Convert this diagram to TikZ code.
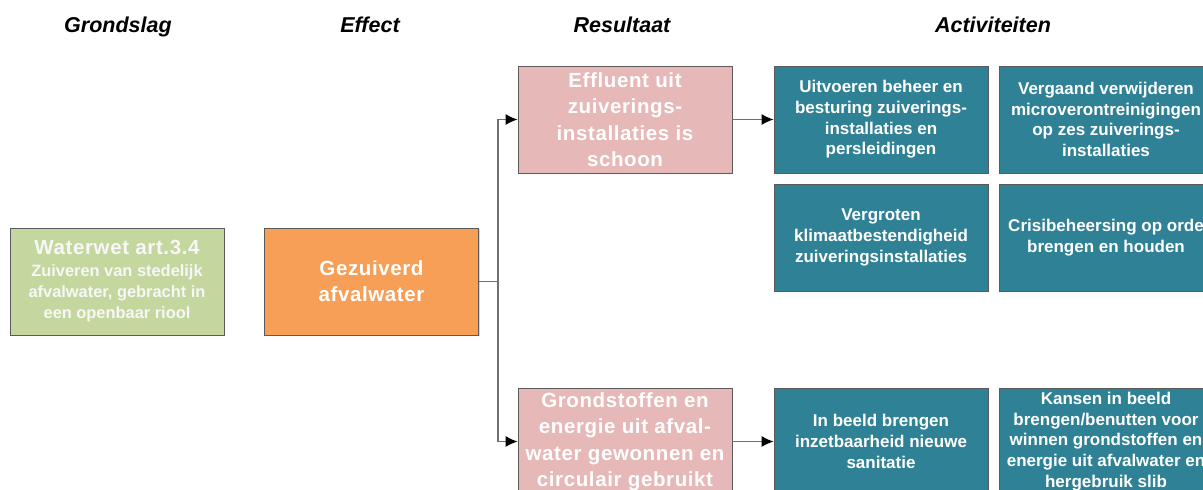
\documentclass[tikz,border=0pt]{standalone}
\usepackage{fontspec}
\setmainfont{Liberation Sans}
\newfontfamily\spacedfont{Liberation Sans}[LetterSpace=3]
\usetikzlibrary{arrows.meta,shadows}
\definecolor{greenbox}{HTML}{C4D79F}
\definecolor{orangebox}{HTML}{F79F56}
\definecolor{pinkbox}{HTML}{E6B8B7}
\definecolor{tealbox}{HTML}{2F8196}
\definecolor{boxborder}{HTML}{5A5A5A}
\definecolor{linegray}{HTML}{707070}
\definecolor{softwhite}{HTML}{F7F7F7}
\tikzset{
  box/.style={draw=boxborder, line width=0.9pt, minimum width=214pt, minimum height=107pt,
    inner sep=0pt, align=center, text=white,
    drop shadow={shadow xshift=1.2pt, shadow yshift=-1.2pt, opacity=0.3}},
  greenstyle/.style={box, fill=greenbox, text=softwhite, font=\bfseries\fontsize{16.4}{21}\selectfont},
  orangestyle/.style={box, fill=orangebox, font=\spacedfont\bfseries\fontsize{20.5}{26}\selectfont},
  pinkstyle/.style={box, fill=pinkbox, font=\spacedfont\bfseries\fontsize{20.5}{26.5}\selectfont},
  tealstyle/.style={box, fill=tealbox, font=\bfseries\fontsize{17}{20.7}\selectfont},
  header/.style={font=\bfseries\itshape\fontsize{21.5}{25}\selectfont, text=black, inner sep=0pt, anchor=base},
  connector/.style={draw=linegray, line width=1.1pt},
  arrowconn/.style={connector, -{Latex[length=12pt,width=11pt,color=black]}}
}
\begin{document}
\begin{tikzpicture}[x=1pt,y=-1pt]
\useasboundingbox (0,0) rectangle (1203,490);
\clip (0,0) rectangle (1203,490);
\fill[white] (0,0) rectangle (1203,490);

% headers
\node[header] (hgrond) at (118,32) {Grondslag};
\node[header] (heffect) at (370,32) {Effect};
\node[header] (hresult) at (622,32) {Resultaat};
\node[header] (hactiv) at (993,32) {Activiteiten};

% left boxes
\node[greenstyle] (grond) at (117,281.5) {{\spacedfont\fontsize{20.5}{25}\selectfont Waterwet art.3.4}\\[1pt]
  Zuiveren van stedelijk\\
  afvalwater, gebracht in\\
  een openbaar riool};
\node[orangestyle] (effect) at (371.5,281.5) {Gezuiverd\\afvalwater};

% results
\node[pinkstyle] (res1) at (625,119.5) {Effluent uit\\zuiverings-\\installaties is\\schoon};
\node[pinkstyle] (res2) at (625,441.5) {Grondstoffen en\\energie uit afval-\\water gewonnen en\\circulair gebruikt};

% activities
\node[tealstyle] (a11) at (881,119.5) {Uitvoeren beheer en\\besturing zuiverings-\\installaties en\\persleidingen};
\node[tealstyle] (a12) at (1106,119.5) {Vergaand verwijderen\\microverontreinigingen\\op zes zuiverings-\\installaties};
\node[tealstyle] (a21) at (881,237.5) {Vergroten\\klimaatbestendigheid\\zuiveringsinstallaties};
\node[tealstyle] (a22) at (1106,237.5) {Crisibeheersing op orde\\brengen en houden};
\node[tealstyle] (a31) at (881,441.5) {In beeld brengen\\inzetbaarheid nieuwe\\sanitatie};
\node[tealstyle] (a32) at (1106,441.5) {Kansen in beeld\\brengen/benutten voor\\winnen grondstoffen en\\energie uit afvalwater en\\hergebruik slib};

% connectors
\coordinate (split) at (498,281.5);
\draw[connector] (effect.east) -- (split);
\draw[arrowconn] (split) |- (res1.west);
\draw[arrowconn] (split) |- (res2.west);
\draw[arrowconn] (res1.east) -- (a11.west);
\draw[arrowconn] (res2.east) -- (a31.west);
\end{tikzpicture}
\end{document}
